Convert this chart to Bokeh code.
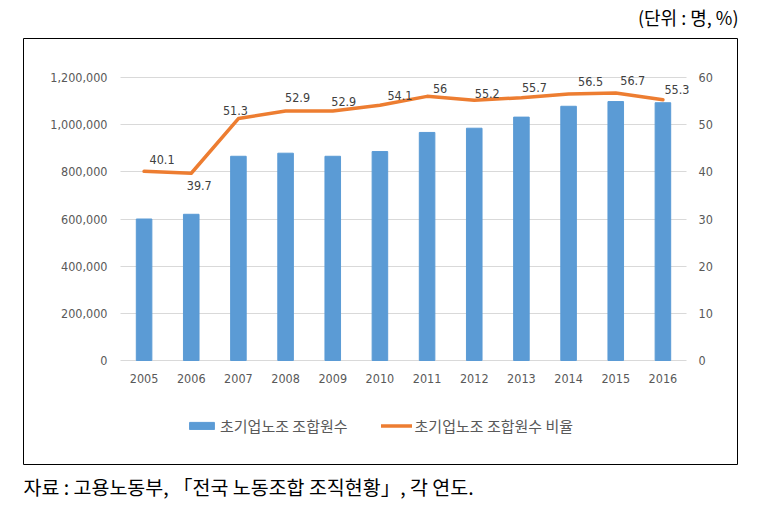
from bokeh.plotting import figure
from bokeh.models import (ColumnDataSource, Range1d, LinearAxis, FixedTicker,
                          NumeralTickFormatter, LabelSet, Label, BoxAnnotation, Legend, LegendItem)
from bokeh.core.properties import value
from bokeh.embed import file_html
from bokeh.resources import INLINE

# ---- data ----
years = [2005, 2006, 2007, 2008, 2009, 2010, 2011, 2012, 2013, 2014, 2015, 2016]
members = [600000, 620000, 866000, 879000, 866000, 886000,
           967000, 985000, 1032000, 1078000, 1098000, 1093000]
ratio = [40.1, 39.7, 51.3, 52.9, 52.9, 54.1, 56.0, 55.2, 55.7, 56.5, 56.7, 55.3]
ratio_labels = ["40.1", "39.7", "51.3", "52.9", "52.9", "54.1",
                "56", "55.2", "55.7", "56.5", "56.7", "55.3"]
left_ticks = [0, 200000, 400000, 600000, 800000, 1000000, 1200000]
right_ticks = [0, 10, 20, 30, 40, 50, 60]
bar_name = "초기업노조 조합원수"
line_name = "초기업노조 조합원수 비율"
unit_text = "(단위 : 명, %)"
source_text = "자료 : 고용노동부, 「전국 노동조합 조직현황」, 각 연도."

# ---- styling / layout (pixels) ----
label_dx = [18, 8, -3, 12, 11, 20, 13, 13, 13, 22, 17, 14]
label_dy = [12, -12, 8, 13, 9, 10, 8, 7, 10, 13, 13, 10]

W, H = 760, 500
PL, PR, PT, PB = 120, 686, 77, 360          # plot area in canvas pixels
NUM_FONT = "DejaVu Sans Condensed"
KR_FONT = "Noto Sans CJK KR"
TICK_COLOR = "#595959"

ncat = len(years)
cw = (PR - PL) / ncat
x_lo = years[0] - 0.5
x_hi = years[-1] + 0.5
x_start = x_lo - PL / cw
x_end = x_start + W / cw
ymax = left_ticks[-1]
s = ymax / (PB - PT)
y_start = -(H - PB) * s
y_end = y_start + H * s
pmax = right_ticks[-1]
s2 = pmax / (PB - PT)
p_start = -(H - PB) * s2
p_end = p_start + H * s2

src = ColumnDataSource(dict(year=years, members=members, ratio=ratio,
                            lab=ratio_labels, dx=label_dx, dy=label_dy))

p = figure(width=W, height=H, x_range=Range1d(x_start, x_end),
           y_range=Range1d(y_start, y_end), output_backend="svg", toolbar_location=None,
           x_axis_location=None, y_axis_location=None,
           min_border=0, min_border_left=0, min_border_right=0,
           min_border_top=0, min_border_bottom=0)
p.outline_line_color = None
p.grid.visible = False
p.extra_y_ranges = {"pct": Range1d(p_start, p_end)}

bars = p.vbar(x="year", top="members", width=0.33, source=src,
              fill_color="#5B9BD5", line_color="#5B9BD5")
line = p.line(x="year", y="ratio", y_range_name="pct", source=src,
              line_color="#ED7D31", line_width=3.5, line_join="round", line_cap="round")

# left axis (its inward ticks act as the horizontal gridlines)
yax = LinearAxis(fixed_location=x_lo, ticker=FixedTicker(ticks=left_ticks),
                 formatter=NumeralTickFormatter(format="0,0"))
yax.level = "underlay"
yax.major_tick_in = PR - PL
yax.major_tick_out = 0
yax.major_tick_line_color = "#D9D9D9"
yax.major_label_standoff = 13
p.add_layout(yax, "left")

ax2 = LinearAxis(y_range_name="pct", fixed_location=x_hi, ticker=FixedTicker(ticks=right_ticks))
ax2.major_tick_line_color = None
ax2.major_tick_in = 0
ax2.major_tick_out = 0
ax2.major_label_standoff = 12
p.add_layout(ax2, "right")

xax = LinearAxis(fixed_location=0, ticker=FixedTicker(ticks=years))
xax.major_tick_line_color = None
xax.major_tick_in = 0
xax.major_tick_out = 0
xax.major_label_standoff = 13
p.add_layout(xax, "below")

for ax in [yax, ax2, xax]:
    ax.axis_line_color = None
    ax.minor_tick_line_color = None
    ax.major_label_text_font = NUM_FONT
    ax.major_label_text_font_size = "12.5px"
    ax.major_label_text_color = TICK_COLOR

# data labels
labels = LabelSet(x="year", y="ratio", text="lab", y_range_name="pct", source=src,
                  x_offset="dx", y_offset="dy", text_align="center", text_baseline="middle",
                  text_font=value(NUM_FONT), text_font_size=value("12.5px"),
                  text_color="#404040")
p.add_layout(labels)

# legend
legend = Legend(items=[LegendItem(label=bar_name, renderers=[bars]),
                       LegendItem(label=line_name, renderers=[line])],
                location=(186, H - 436), orientation="horizontal", spacing=33,
                glyph_width=31, glyph_height=9, label_standoff=3, label_height=20,
                padding=0, margin=0, border_line_color=None, background_fill_alpha=0,
                label_text_font=KR_FONT, label_text_font_size="15px",
                label_text_color=TICK_COLOR)
p.add_layout(legend, "center")

# outer box, unit, source
box = BoxAnnotation(left=23, right=737, top=H - 38, bottom=H - 464,
                    left_units="screen", right_units="screen",
                    top_units="screen", bottom_units="screen",
                    fill_alpha=0, line_color="black", line_width=1, line_alpha=1)
p.add_layout(box)

p.add_layout(Label(x=738, y=H - 16, x_units="screen", y_units="screen", text=unit_text,
                   text_align="right", text_baseline="middle", text_font=KR_FONT,
                   text_font_size="18px", text_color="black"))
p.add_layout(Label(x=23, y=H - 486, x_units="screen", y_units="screen", text=source_text,
                   text_align="left", text_baseline="middle", text_font=KR_FONT,
                   text_font_size="19.5px", text_color="black"))

open("out.html", "w").write(file_html(p, INLINE))
